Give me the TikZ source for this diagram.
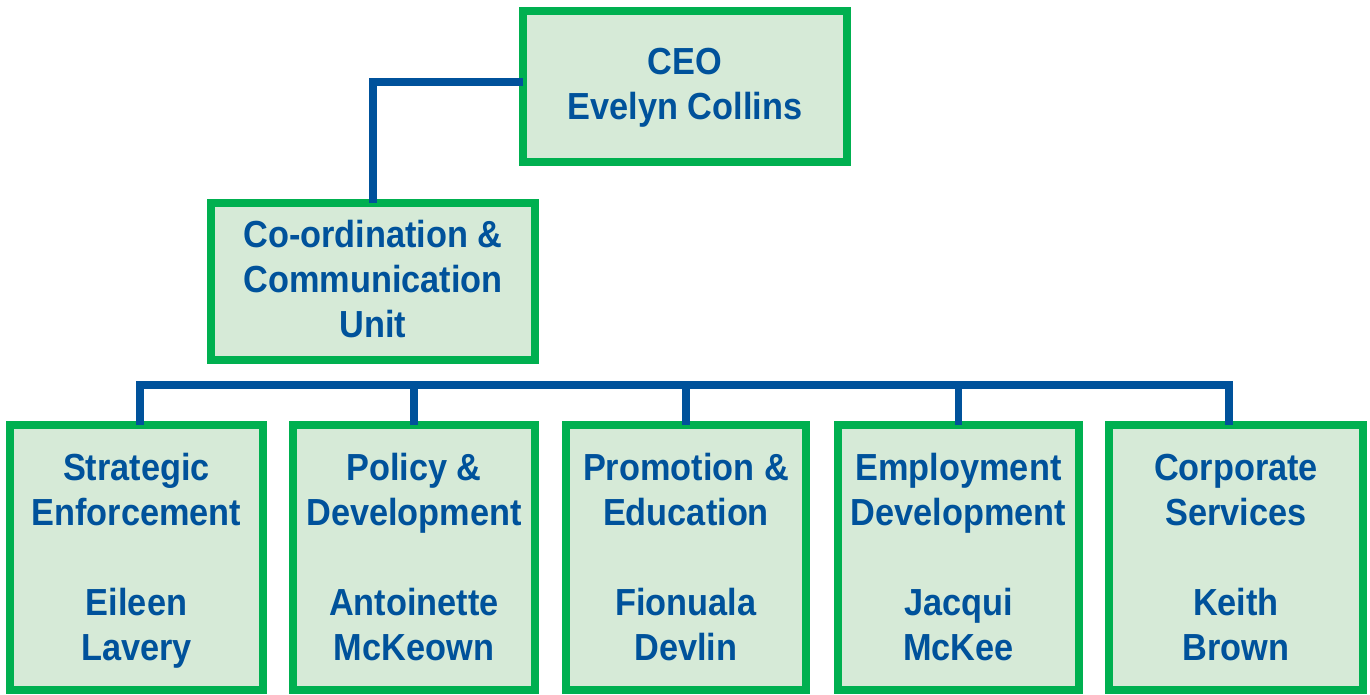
\documentclass[tikz,border=0pt]{standalone}
\usepackage{fontspec}
\setmainfont{Liberation Sans}[FakeStretch=0.91]
\definecolor{boxgreen}{RGB}{0,176,80}
\definecolor{boxfill}{RGB}{214,234,215}
\definecolor{navy}{RGB}{0,82,155}
\newcommand{\topstrut}[1]{\rule{0pt}{#1pt}}
\newcommand{\botstrut}[1]{\rule[-#1pt]{0pt}{0pt}}
\tikzset{
  orgbox/.style={draw=boxgreen, line width=8pt, fill=boxfill, rectangle,
    inner sep=0pt, outer sep=0pt, align=center, text=navy,
    font=\fontsize{37.7}{45}\selectfont\bfseries},
  conn/.style={draw=navy, line width=7.5pt, line join=miter}
}
\begin{document}
\begin{tikzpicture}[x=1pt, y=-1pt]
\useasboundingbox (0,0) rectangle (1370,695);
% boxes
\node[orgbox, minimum width=324pt, minimum height=151pt] (ceo) at (685,86.5)
  {\topstrut{30}CEO\\Evelyn Collins\botstrut{8}};
\node[orgbox, minimum width=324pt, minimum height=157pt] (coord) at (373,281.5)
  {\topstrut{29}Co-ordination \&\\Communication\\Unit\botstrut{8}};
\node[orgbox, minimum width=253pt, minimum height=265pt] (b1) at (136.5,557.5)
  {\topstrut{34}Strategic\\Enforcement\\[45pt]Eileen\\Lavery\botstrut{8}};
\node[orgbox, minimum width=242pt, minimum height=265pt] (b2) at (414,557.5)
  {\topstrut{34}Policy \&\\Development\\[45pt]Antoinette\\McKeown\botstrut{8}};
\node[orgbox, minimum width=240pt, minimum height=265pt] (b3) at (686,557.5)
  {\topstrut{34}Promotion \&\\Education\\[45pt]Fionuala\\Devlin\botstrut{8}};
\node[orgbox, minimum width=241pt, minimum height=265pt] (b4) at (958.5,557.5)
  {\topstrut{34}Employment\\Development\\[45pt]Jacqui\\McKee\botstrut{8}};
\node[orgbox, minimum width=254pt, minimum height=265pt] (b5) at (1236,557.5)
  {\topstrut{34}Corporate\\Services\\[45pt]Keith\\Brown\botstrut{8}};
% connectors
\coordinate (busR) at (1229,385);
\draw[conn] ([yshift=4.5pt]ceo.west) -| (coord.north);
\draw[conn] ([xshift=3.5pt]b1.north) |- (busR) -- ([xshift=-7pt]b5.north);
\draw[conn] (b2.north) -- (b2.north |- busR);
\draw[conn] (b3.north) -- (b3.north |- busR);
\draw[conn] (b4.north) -- (b4.north |- busR);
\end{tikzpicture}
\end{document}
